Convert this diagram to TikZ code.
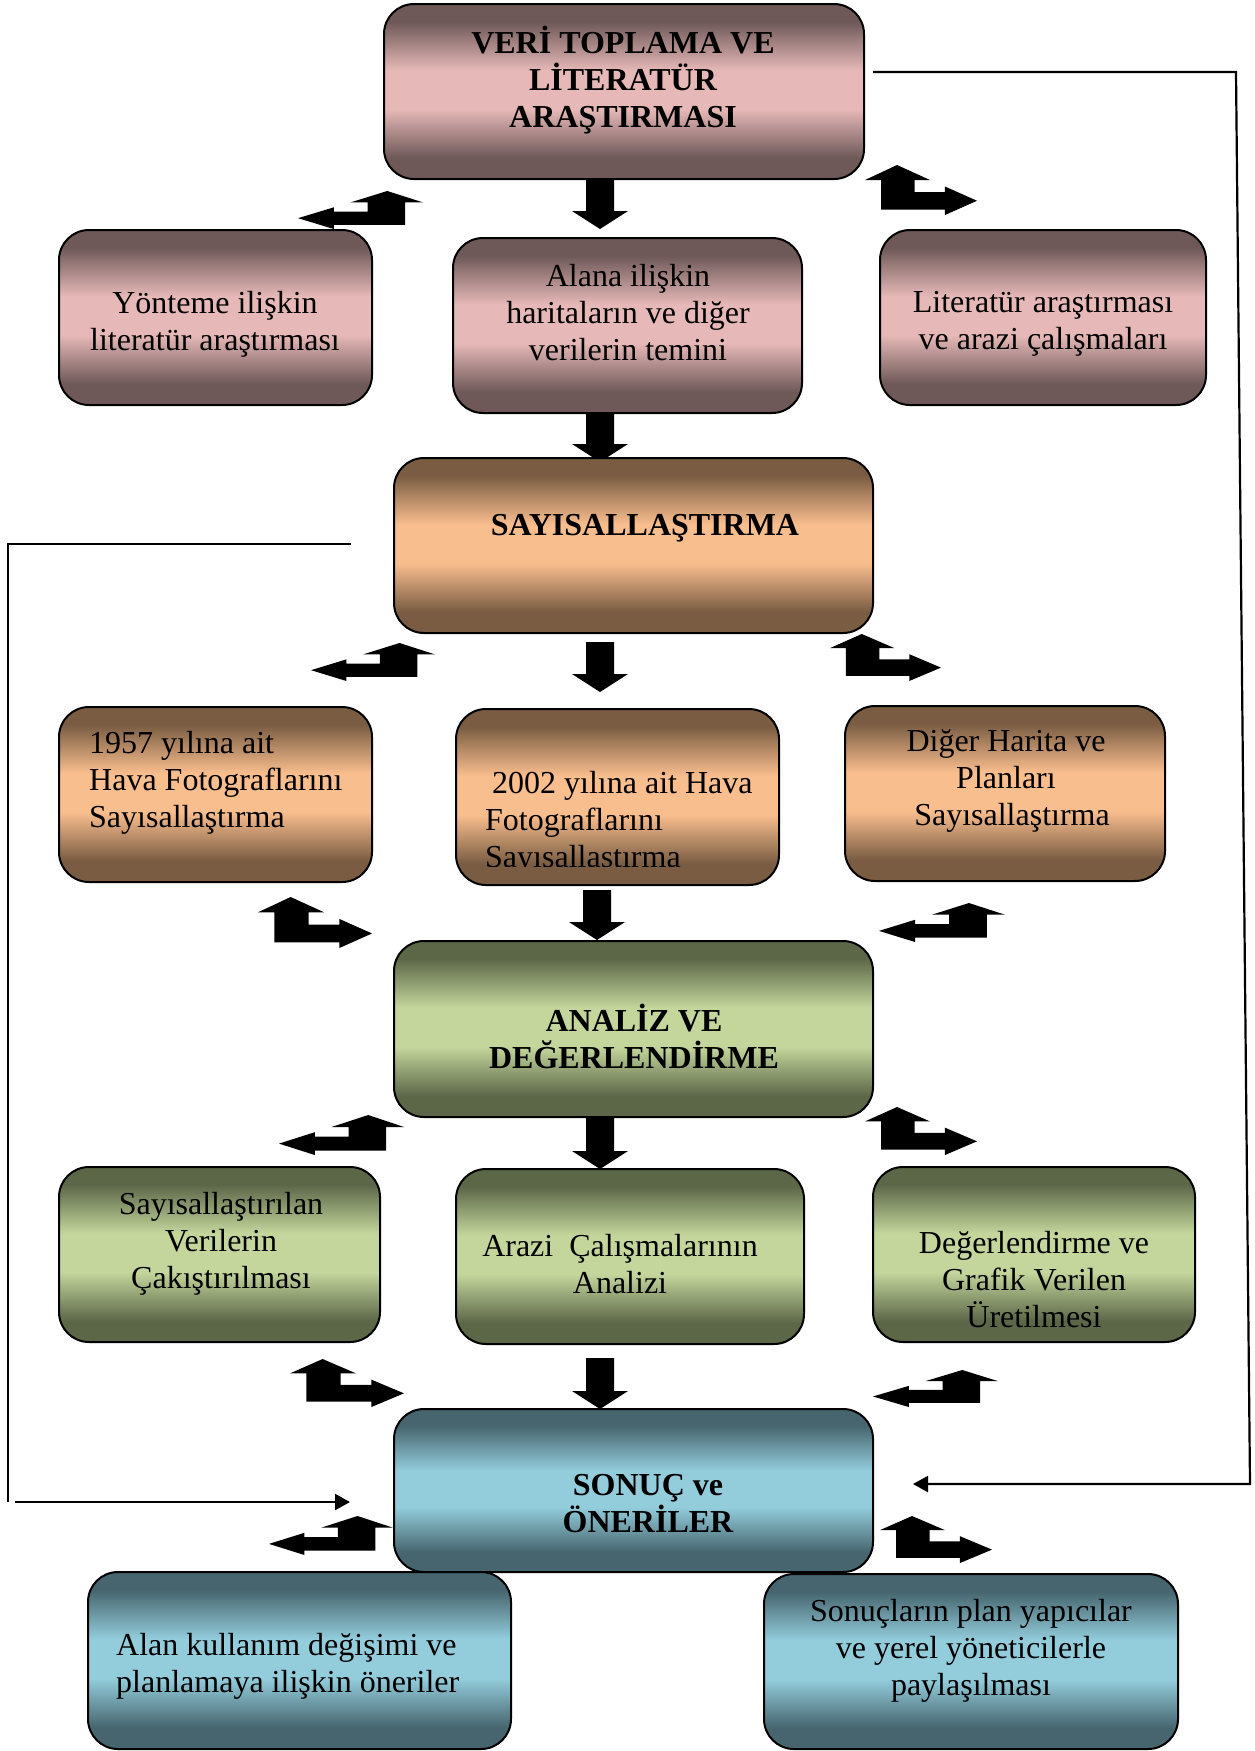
\documentclass[tikz,border=0pt]{standalone}
\usepackage{fontspec}
\setmainfont{Liberation Serif}
\usetikzlibrary{arrows.meta}
\definecolor{pinkD}{RGB}{110,88,88}
\definecolor{pinkL}{RGB}{230,185,184}
\definecolor{orD}{RGB}{121,92,66}
\definecolor{orL}{RGB}{249,190,142}
\definecolor{grD}{RGB}{92,103,72}
\definecolor{grL}{RGB}{196,214,156}
\definecolor{blD}{RGB}{70,101,110}
\definecolor{blL}{RGB}{147,205,220}
\pgfdeclareverticalshading{pinkS}{100bp}{color(0bp)=(pinkD); color(31bp)=(pinkD); color(45bp)=(pinkL); color(56bp)=(pinkL); color(70bp)=(pinkD); color(100bp)=(pinkD)}
\pgfdeclareverticalshading{orS}{100bp}{color(0bp)=(orD); color(31bp)=(orD); color(45bp)=(orL); color(56bp)=(orL); color(70bp)=(orD); color(100bp)=(orD)}
\pgfdeclareverticalshading{grS}{100bp}{color(0bp)=(grD); color(31bp)=(grD); color(45bp)=(grL); color(56bp)=(grL); color(70bp)=(grD); color(100bp)=(grD)}
\pgfdeclareverticalshading{blS}{100bp}{color(0bp)=(blD); color(31bp)=(blD); color(45bp)=(blL); color(56bp)=(blL); color(70bp)=(blD); color(100bp)=(blD)}
\newcommand{\bentL}[4]{\fill[shift={(#1,#2)}, xscale=#3, yscale=#4] (0,0.715) -- (0.286,0.43) -- (0.286,0.54) -- (0.556,0.54) -- (0.556,0.30) -- (0.42,0.30) -- (0.714,0) -- (1,0.30) -- (0.857,0.30) -- (0.857,0.89) -- (0.286,0.89) -- (0.286,1) -- cycle;}
\newcommand{\bentR}[4]{\fill[shift={(#1,#2)}, xscale=#3, yscale=#4] (1,0.715) -- (0.714,0.43) -- (0.714,0.54) -- (0.444,0.54) -- (0.444,0.30) -- (0.58,0.30) -- (0.286,0) -- (0,0.30) -- (0.143,0.30) -- (0.143,0.89) -- (0.714,0.89) -- (0.714,1) -- cycle;}
\newcommand{\downarr}[3]{\fill (#1-14,#2) -- (#1+14,#2) -- (#1+14,#3-18) -- (#1+28,#3-18) -- (#1,#3) -- (#1-28,#3-18) -- (#1-14,#3-18) -- cycle;}
\begin{document}
\begin{tikzpicture}[x=1pt,y=-1pt,
  box/.style={draw=black, line width=2pt, rounded corners=30pt, rectangle, inner sep=0pt, shading=#1},
  txt/.style={font=\fontsize{32}{37}\selectfont, align=center, inner sep=0pt},
  btxt/.style={font=\bfseries\fontsize{32}{37}\selectfont, align=center, inner sep=0pt},
  conn/.style={line width=2.2pt, draw=black},
  tip/.style={-{Triangle[length=15pt,width=16pt]}}]
\useasboundingbox (0,0) rectangle (1255,1751);
\fill[white] (0,0) rectangle (1255,1751);

% block arrows (drawn under the boxes)
\downarr{600}{179}{229}
\downarr{600}{413}{462}
\downarr{600}{642}{692}
\downarr{597}{890}{940}
\downarr{600}{1117}{1169}
\downarr{600}{1358}{1409}

\bentL{298}{191}{125}{38}
\bentR{865}{165}{112}{50}
\bentL{311}{643}{124}{38}
\bentR{830}{634}{111}{47}
\bentR{258}{897}{114}{51}
\bentL{879}{903}{126}{39}
\bentL{279}{1115}{125}{40}
\bentR{865}{1107}{112}{48}
\bentR{290}{1359}{114}{48}
\bentL{873}{1370}{125}{37}
\bentL{269}{1516}{124}{39}
\bentR{880}{1516}{112}{47}

% boxes
\node[box=pinkS, minimum width=480pt, minimum height=175pt] (b1) at (624,91.5) {};
\node[box=pinkS, minimum width=313pt, minimum height=175pt] (b2) at (215.5,317.5) {};
\node[box=pinkS, minimum width=349pt, minimum height=175pt] (b3) at (627.5,325.5) {};
\node[box=pinkS, minimum width=326pt, minimum height=175pt] (b4) at (1043,317.5) {};
\node[box=orS, minimum width=479pt, minimum height=175pt] (b5) at (633.5,545.5) {};
\node[box=orS, minimum width=313pt, minimum height=175pt] (b6) at (215.5,794.5) {};
\node[box=orS, minimum width=323pt, minimum height=176pt] (b7) at (617.5,797) {};
\node[box=orS, minimum width=320pt, minimum height=175pt] (b8) at (1005,793.5) {};
\node[box=grS, minimum width=479pt, minimum height=176pt] (b9) at (633.5,1029) {};
\node[box=grS, minimum width=321pt, minimum height=175pt] (b10) at (219.5,1254.5) {};
\node[box=grS, minimum width=348pt, minimum height=175pt] (b11) at (630,1256.5) {};
\node[box=grS, minimum width=322pt, minimum height=175pt] (b12) at (1034,1254.5) {};
\node[box=blS, minimum width=479pt, minimum height=163pt] (b13) at (633.5,1490.5) {};
\node[box=blS, minimum width=423pt, minimum height=177pt] (b14) at (299.5,1660.5) {};
\node[box=blS, minimum width=414pt, minimum height=175pt] (b15) at (971,1661.5) {};

% texts
\node[btxt] (t1) at (623,80) {VERİ TOPLAMA VE\\LİTERATÜR\\ARAŞTIRMASI};
\node[txt] (t2) at (215,324) {Yönteme ilişkin\\literatür araştırması};
\node[txt] (t3) at (628,313) {Alana ilişkin\\haritaların ve diğer\\verilerin temini};
\node[txt] (t4) at (1043,324) {Literatür araştırması\\ve arazi çalışmaları};
\node[btxt] (t5) at (645,528) {SAYISALLAŞTIRMA};
\node[txt, align=left, anchor=west] (t6) at (89,783) {1957 yılına ait\\Hava Fotograflarını\\Sayısallaştırma};
\begin{scope}
\clip (0,0) rectangle (1255,866);
\node[txt, align=left, anchor=west] (t7) at (485,823) {\hspace*{7pt}2002 yılına ait Hava\\Fotograflarını\\Sayısallaştırma};
\end{scope}
\node[txt] (t8) at (1006,781) {Diğer Harita ve\\Planları\\\hspace*{12pt}Sayısallaştırma};
\node[btxt] (t9) at (634,1036) {ANALİZ VE\\DEĞERLENDİRME};
\node[txt] (t10) at (221,1244) {Sayısallaştırılan\\Verilerin\\Çakıştırılması};
\node[txt] (t11) at (620,1264) {Arazi\ \ Çalışmalarının\\Analizi};
\node[txt] (t12) at (1034,1280) {Değerlendirme ve\\Grafik Verilen\\Üretilmesi};
\node[btxt] (t13) at (648,1504) {SONUÇ ve\\ÖNERİLER};
\node[txt, align=left, anchor=west] (t14) at (116,1666) {Alan kullanım değişimi ve\\planlamaya ilişkin öneriler};
\node[txt] (t15) at (971,1651) {Sonuçların plan yapıcılar\\ve yerel yöneticilerle\\paylaşılması};

% feedback connectors
\coordinate (Lt) at (351,544);
\coordinate (Lc) at (8,544);
\coordinate (Lb) at (8,1502);
\coordinate (La) at (15,1502);
\coordinate (Le) at (350,1502);
\draw[conn] (Lt) -- (Lc) -- (Lb);
\draw[conn, tip] (La) -- (Le);
\coordinate (Rs) at (873,72);
\coordinate (Rc1) at (1236,72);
\coordinate (Rc2) at (1250,1484);
\coordinate (Re) at (913,1484);
\draw[conn, tip] (Rs) -- (Rc1) -- (Rc2) -- (Re);
\end{tikzpicture}
\end{document}
